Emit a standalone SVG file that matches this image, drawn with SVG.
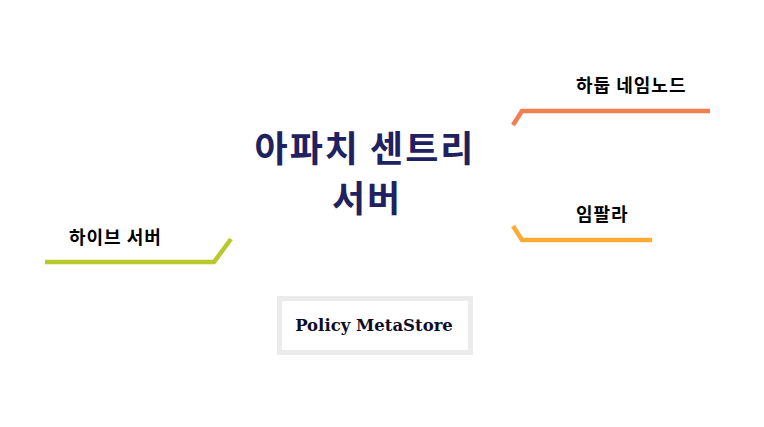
<svg xmlns="http://www.w3.org/2000/svg" width="764" height="427" viewBox="0 0 764 427">
<style>
.lbl{font-family:"Noto Sans CJK KR","Noto Sans",sans-serif;font-weight:bold;font-size:18px;letter-spacing:1px;fill:#000}
.title{font-family:"Noto Sans CJK KR","Noto Sans",sans-serif;font-weight:bold;font-size:36px;letter-spacing:2px;fill:#1f2260;text-anchor:middle}
.ln{fill:none;stroke-width:4.5}
</style>
<rect width="764" height="427" fill="#fff"/>
<g id="connectors">
<polyline class="ln" stroke="#f47d52" points="513,125 522,111 710,111"/>
<polyline class="ln" stroke="#ffab33" points="513,226 522,240 652,240"/>
<polyline class="ln" stroke="#b8c92b" points="45,262 214,262 231,239"/>
</g>
<g id="center"><text class="title" x="365" y="162">아파치 센트리</text><text class="title" x="367" y="212">서버</text></g>
<g id="hadoop"><text class="lbl" x="576" y="92">하둡 네임노드</text></g>
<g id="impala"><text class="lbl" x="576" y="221">임팔라</text></g>
<g id="hive"><text class="lbl" x="69" y="244">하이브 서버</text></g>
<g id="policy"><rect x="279.5" y="298.5" width="191" height="54" fill="#fff" stroke="#ebebeb" stroke-width="5"/><text x="374" y="331" text-anchor="middle" font-family="DejaVu Serif,serif" font-weight="bold" font-size="16.5" fill="#0d0d2a">Policy MetaStore</text></g>
</svg>
